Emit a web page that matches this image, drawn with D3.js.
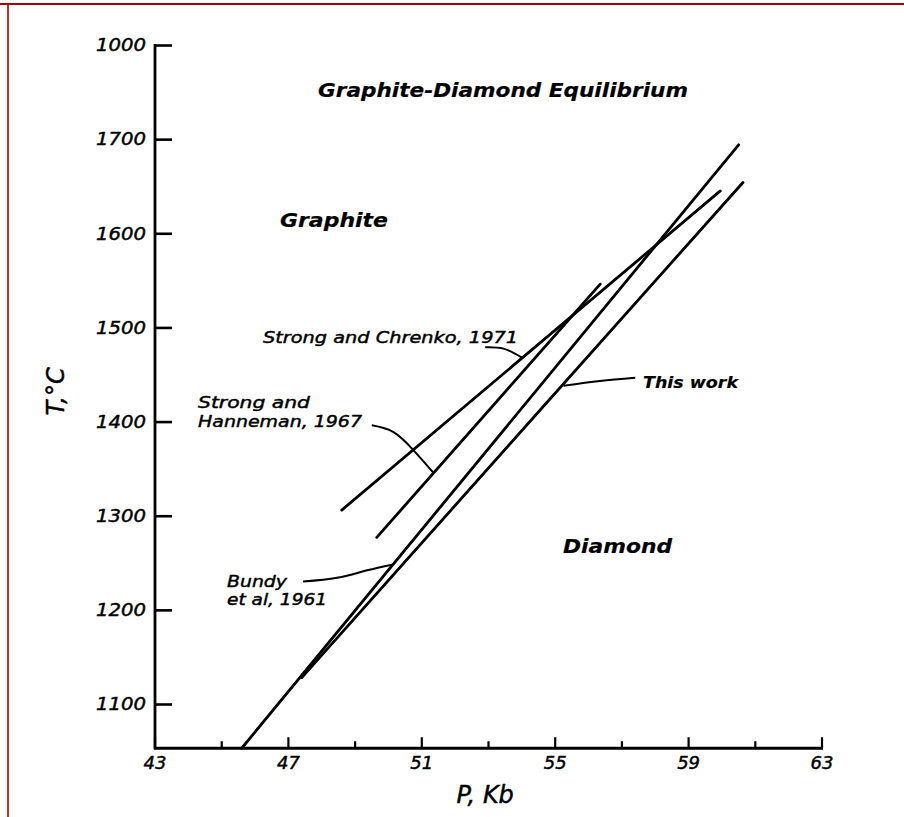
<!DOCTYPE html>
<html>
<head>
<meta charset="utf-8">
<script src="https://cdn.jsdelivr.net/npm/d3@7"></script>
<style>
  body { margin: 0; background: #fff; }
  svg text { font-family: "DejaVu Sans", sans-serif; font-style: oblique; fill: #000; stroke: #000; stroke-width: 0.45px; }
  .bold { font-weight: bold; stroke-width: 0.2px; }
</style>
</head>
<body>
<svg id="chart" width="904" height="817"></svg>
<script>
// axis ticks
const pressureTicks = [43, 45, 47, 49, 51, 53, 55, 57, 59, 61, 63]
const pressureLabels = [43, 47, 51, 55, 59, 63]
const tempTicks = [1100, 1200, 1300, 1400, 1500, 1600, 1700, 1800]
// the top label really reads 1000 in the original
const tempLabels = ['1100', '1200', '1300', '1400', '1500', '1600', '1700', '1000']

// equilibrium lines, [P kb, T C]
const chrenko1971 = [[48.6, 1306], [59.95, 1645]]
const hanneman1967 = [[49.65, 1277], [56.35, 1546]]
const bundy1961 = [[45.6, 1053], [60.5, 1694]]
const thisWork = [[47.4, 1128], [60.63, 1654]]

const svg = d3.select('#chart')

let x = d3.scaleLinear().domain([43, 63]).range([155, 822])
let y = d3.scaleLinear().domain([1100, 1800]).range([704, 45])
let yBottom = 1053

// red scan border
svg.append('line').attr('x1', 0).attr('x2', 904).attr('y1', 4).attr('y2', 4)
  .attr('stroke', '#a50000').attr('stroke-width', 2.2)
svg.append('line').attr('x1', 8).attr('x2', 8).attr('y1', 4).attr('y2', 817)
  .attr('stroke', '#a50000').attr('stroke-width', 1.6)

// y axis
let yAxis = d3.axisLeft(y)
  .tickValues(tempTicks)
  .tickSizeInner(-17)
  .tickSizeOuter(0)
  .tickPadding(9)
  .tickFormat((d, i) => tempLabels[i])

let gy = svg.append('g').attr('transform', `translate(${x(43)},0)`).call(yAxis)
gy.select('.domain').remove()
gy.selectAll('.tick line').attr('stroke', '#000').attr('stroke-width', 2.6)
gy.selectAll('.tick text')
  .attr('font-size', 18)
  .attr('textLength', 50)
  .attr('lengthAdjust', 'spacingAndGlyphs')
  .style('font-family', '"DejaVu Sans", sans-serif')
svg.append('line')
  .attr('x1', x(43)).attr('x2', x(43))
  .attr('y1', y(1800) - 1).attr('y2', y(yBottom) + 1)
  .attr('stroke', '#000').attr('stroke-width', 2.8)

// x axis, long ticks labelled, short ones between
let gx = svg.append('g').attr('transform', `translate(0,${y(yBottom)})`)
gx.selectAll('line.tk')
  .data(pressureTicks)
  .enter()
  .append('line')
  .attr('class', 'tk')
  .attr('x1', d => x(d)).attr('x2', d => x(d))
  .attr('y1', 0)
  .attr('y2', d => pressureLabels.includes(d) ? -11 : -7)
  .attr('stroke', '#000').attr('stroke-width', 2.2)
gx.selectAll('text')
  .data(pressureLabels)
  .enter()
  .append('text')
  .attr('x', d => x(d))
  .attr('y', 21)
  .attr('text-anchor', 'middle')
  .attr('font-size', 18)
  .text(d => d)
svg.append('line')
  .attr('x1', x(43) - 1).attr('x2', x(63) + 1)
  .attr('y1', y(yBottom)).attr('y2', y(yBottom))
  .attr('stroke', '#000').attr('stroke-width', 2.8)

// axis titles
svg.append('text')
  .attr('x', x(52.9)).attr('y', 803)
  .attr('text-anchor', 'middle')
  .attr('font-size', 24)
  .text('P, Kb')
svg.append('text')
  .attr('transform', `translate(64,${y(1432)}) rotate(-90)`)
  .attr('text-anchor', 'middle')
  .attr('font-size', 24)
  .text('T,°C')

// equilibrium lines
let line = d3.line().x(d => x(d[0])).y(d => y(d[1]))
svg.append('g')
  .selectAll('path')
  .data([chrenko1971, hanneman1967, bundy1961, thisWork])
  .enter()
  .append('path')
  .attr('d', line)
  .attr('fill', 'none')
  .attr('stroke', '#000')
  .attr('stroke-width', 2.8)
  .attr('stroke-linecap', 'round')

// leaders from the labels to the lines
let leader = d3.line().x(d => x(d[0])).y(d => y(d[1])).curve(d3.curveNatural)
let leaders = [
  [[52.9, 1479], [53.45, 1477.5], [54.0, 1468]],
  [[49.5, 1396], [50.14, 1389], [50.74, 1370], [51.34, 1346]],
  [[47.44, 1230], [48.46, 1234], [49.36, 1242], [50.11, 1248]],
  [[57.4, 1446.5], [56.34, 1443], [55.25, 1438]]
]
svg.append('g')
  .selectAll('path')
  .data(leaders)
  .enter()
  .append('path')
  .attr('d', leader)
  .attr('fill', 'none')
  .attr('stroke', '#000')
  .attr('stroke-width', 2)

// text labels
function label(t, px, py, size, bold, len) {
  let el = svg.append('text')
    .attr('x', px).attr('y', py)
    .attr('font-size', size)
    .text(t)
  if (bold) el.attr('class', 'bold')
  if (len) el.attr('textLength', len).attr('lengthAdjust', 'spacingAndGlyphs')
  return el
}

label('Graphite-Diamond Equilibrium', 318, 97, 20, true, 370)
label('Graphite', 280, 227, 20, true, 108)
label('Diamond', 563, 553, 20, true, 109)
label('Strong and Chrenko, 1971', 263, 343, 16, false, 255)
label('Strong and', 198, 408, 16, false, 112)
label('Hanneman, 1967', 198, 427, 16, false, 164)
label('Bundy', 227, 587, 16, false, 60)
label('et al, 1961', 227, 605, 16, false, 100)
label('This work', 643, 388, 16, true, 95)
</script>
</body>
</html>
